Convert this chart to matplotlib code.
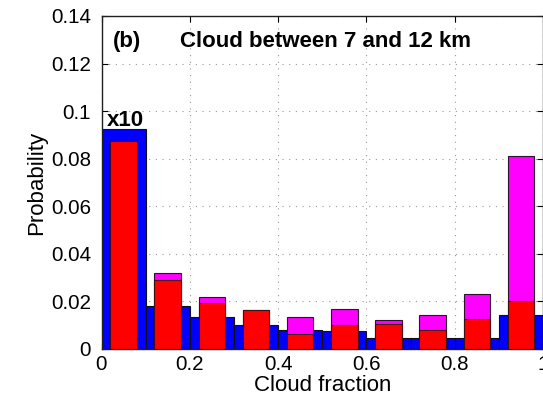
import numpy as np
import matplotlib
matplotlib.use("Agg")
import matplotlib.pyplot as plt

plt.rcParams['font.family'] = ['Liberation Sans', 'DejaVu Sans']

# bin centres of cloud fraction histogram
bin_ctr = [0.05, 0.15, 0.25, 0.35, 0.45, 0.55, 0.65, 0.75, 0.85, 0.95]

# blue: wide bars (first bin scaled down x10)
blue_p = [0.0924, 0.0182, 0.0134, 0.0100, 0.0080, 0.0074, 0.0048, 0.0048, 0.0048, 0.0144]
# magenta: total, red: part
mag_p = [0.0876, 0.0321, 0.0217, 0.0165, 0.0133, 0.0169, 0.0120, 0.0144, 0.0232, 0.0812]
red_p = [0.0876, 0.0292, 0.0194, 0.0165, 0.0062, 0.0102, 0.0104, 0.0080, 0.0126, 0.0202]

TICKLBLSIZE = 14.8
AXISLBLSIZE = 16
TITLESIZE = 16


def main():
    fig = plt.figure(figsize=(5.43, 4.07), dpi=100)
    ax = fig.add_axes([101.5 / 543, 58 / 407, 441.5 / 543, 333 / 407])

    ax.bar(bin_ctr, blue_p, width=0.1, color=(0, 0, 1), edgecolor="#101010", linewidth=0.8, zorder=2)
    ax.bar(bin_ctr, mag_p, width=0.06, color=(1, 0, 1), edgecolor="#301030", linewidth=0.8, zorder=3)
    ax.bar(bin_ctr, red_p, width=0.06, color=(1, 0, 0), edgecolor="#401010", linewidth=0.8, zorder=4)

    ax.set_xlim(0, 1)
    ax.set_ylim(0, 0.14)
    xt = [0, 0.2, 0.4, 0.6, 0.8, 1]
    ax.set_xticks(xt)
    ax.set_xticklabels(["0", "0.2", "0.4", "0.6", "0.8", "1"], size=TICKLBLSIZE)
    yt = [0, 0.02, 0.04, 0.06, 0.08, 0.1, 0.12, 0.14]
    ax.set_yticks(yt)
    ax.set_yticklabels(["0", "0.02", "0.04", "0.06", "0.08", "0.1", "0.12", "0.14"], size=TICKLBLSIZE)
    ax.tick_params(direction="in", top=True, right=True, length=4, width=0.8)
    ax.tick_params(axis="y", pad=7.5)
    ax.tick_params(axis="x", pad=4)

    ax.grid(True, linestyle=(0, (1, 5)), color="#999999", linewidth=0.8, zorder=0)
    ax.set_axisbelow(True)
    for sp in ax.spines.values():
        sp.set_linewidth(1.0)
        sp.set_color("#202020")

    ax.text(0.0125, 0.0937, "x10", fontsize=TITLESIZE, fontweight="bold", ha="left", va="baseline", zorder=5)
    ax.text(0.026, 0.1269, "(b)", fontsize=TITLESIZE, fontweight="bold", ha="left", va="baseline")
    ax.text(0.178, 0.1269, "Cloud between 7 and 12 km", fontsize=TITLESIZE, fontweight="bold", ha="left", va="baseline")

    ax.set_xlabel("Cloud fraction", size=AXISLBLSIZE, labelpad=1)
    ax.set_ylabel("Probability", size=AXISLBLSIZE, labelpad=3)

    plt.savefig("out.png", dpi=100)
    plt.close()


if __name__ == "__main__":
    main()
